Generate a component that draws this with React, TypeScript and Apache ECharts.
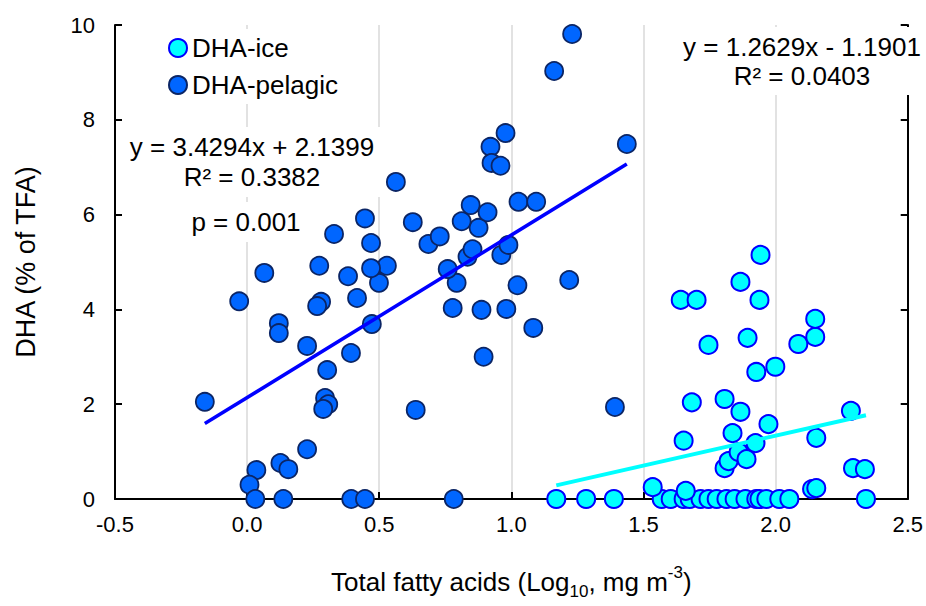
import React, { useEffect, useRef } from "react";
import * as echarts from "echarts";

// DHA (% of TFA) against total fatty acids (Log10, mg m-3)
const pelagicX = [
  -0.16, -0.03, 0.065, 0.12, 0.12, 0.227, 0.28, 0.265, 0.416, 0.472,
  0.393, 0.303, 0.295, 0.307, 0.288, 0.227, 0.126, 0.156, 0.035, 0.009,
  0.031, 0.137, 0.394, 0.446, 0.782, 0.638, 0.895, 0.778, 0.887, 0.981,
  1.083, 1.219, 1.392, 1.023, 0.793, 0.759, 0.499, 0.529, 0.469, 0.469,
  0.686, 0.729, 0.834, 0.853, 0.962, 0.989, 0.876, 0.563, 0.627, 0.812,
  0.846, 0.91, 0.921, 0.925, 0.959, 0.978, 1.027, 1.094, 1.162, 1.23,
  1.437, 0.329, 0.273, 0.382, 0.446,
];
const pelagicY = [
  2.05, 4.17, 4.77, 3.71, 3.5, 3.23, 4.16, 4.07, 4.24, 3.69,
  3.08, 2.72, 2.13, 2.0, 1.9, 1.05, 0.76, 0.63, 0.61, 0.3,
  0, 0, 0, 0, 0, 1.88, 3.0, 4.03, 3.99, 4.01,
  3.61, 4.62, 1.94, 4.51, 4.56, 4.85, 4.56, 4.92, 4.87, 5.4,
  5.38, 5.54, 5.11, 5.27, 5.15, 5.36, 5.72, 6.69, 5.84, 5.86,
  6.2, 6.05, 7.43, 7.09, 7.03, 7.72, 6.27, 6.27, 9.03, 9.81,
  7.49, 5.59, 4.92, 4.7, 5.92,
];

const iceX = [
  1.17, 1.283, 1.388, 1.569, 1.603, 1.652, 1.675, 1.716, 1.746, 1.777,
  1.814, 1.845, 1.886, 1.927, 1.939, 1.965, 2.014, 2.052, 2.342,
  1.535, 1.66, 2.138, 2.154, 2.293, 2.338, 2.285, 2.154, 1.652, 1.683,
  1.807, 1.822, 1.86, 1.89, 1.924, 1.837, 1.973, 1.807, 1.867, 1.746,
  1.894, 1.927, 1.999, 2.086, 2.15, 2.15, 1.641, 1.701, 1.867, 1.939,
  1.943,
];
const iceY = [
  0, 0, 0, 0, 0, 0, 0, 0, 0, 0,
  0, 0, 0, 0, 0, 0, 0, 0, 0,
  0.25, 0.17, 0.21, 0.23, 0.65, 0.63, 1.86, 1.29, 1.23, 2.04,
  0.65, 0.8, 0.99, 0.84, 1.18, 1.39, 1.58, 2.11, 1.84, 3.25,
  3.4, 2.68, 2.79, 3.27, 3.42, 3.8, 4.2, 4.2, 4.58, 4.2,
  5.15,
];

// Linear fits: [slope, intercept]
const pelagicFit = [3.4294, 2.1399];
const iceFit = [1.2629, -1.1901];

const xTicks = { min: -0.5, max: 2.5, step: 0.5 };
const yTicks = { min: 0, max: 10, step: 2 };

const FONT = "'Liberation Sans', Arial, Helvetica, sans-serif";

function pairs(xs: number[], ys: number[]) {
  return xs.map((x, i) => [x, ys[i]]);
}

function fitLine(xs: number[], fit: number[]) {
  const lo = Math.min(...xs);
  const hi = Math.max(...xs);
  return [
    [lo, fit[0] * lo + fit[1]],
    [hi, fit[0] * hi + fit[1]],
  ];
}

function eqText(fit: number[]) {
  const sign = fit[1] < 0 ? "-" : "+";
  return `y = ${fit[0].toFixed(4)}x ${sign} ${Math.abs(fit[1]).toFixed(4)}`;
}

export default function App() {
  const ref = useRef<HTMLDivElement>(null);

  useEffect(() => {
    document.body.style.margin = "0";
    if (!ref.current) return;
    const chart = echarts.init(ref.current, undefined, { renderer: "svg" });

    const axisLine = { show: true, onZero: false, lineStyle: { color: "#000", width: 2 } };
    const axisTick = { show: true, inside: true, length: 7, lineStyle: { color: "#000", width: 2 } };

    chart.setOption({
      animation: false,
      backgroundColor: "#fff",
      grid: { left: 115, right: 18, top: 25, bottom: 107 },
      legend: {
        data: ["DHA-ice", "DHA-pelagic"],
        orient: "vertical",
        left: 158,
        top: 29,
        itemWidth: 18,
        itemHeight: 18,
        itemGap: 11,
        padding: [6, 10, 6, 10],
        backgroundColor: "#fff",
        selectedMode: false,
        z: 50,
        textStyle: { fontSize: 26, fontFamily: FONT, color: "#000" },
      },
      xAxis: {
        type: "value",
        min: xTicks.min,
        max: xTicks.max,
        interval: xTicks.step,
        axisLine,
        axisTick,
        splitLine: { show: true, lineStyle: { color: "#D9D9D9", width: 1.5 } },
        axisLabel: {
          color: "#000",
          fontSize: 22,
          fontFamily: FONT,
          margin: 14,
          formatter: (v: number) => v.toFixed(1),
        },
        name: "{a|Total fatty acids (Log}{sub|10}{a|, mg m}{sup|-3}{a|)}",
        nameLocation: "middle",
        nameGap: 65,
        nameTextStyle: {
          rich: {
            a: { fontSize: 26, fontFamily: FONT, color: "#000", lineHeight: 36, verticalAlign: "middle" },
            sub: { fontSize: 17, fontFamily: FONT, color: "#000", lineHeight: 18, verticalAlign: "bottom" },
            sup: { fontSize: 17, fontFamily: FONT, color: "#000", lineHeight: 18, verticalAlign: "top" },
          },
        },
      },
      yAxis: [
        {
          type: "value",
          min: yTicks.min,
          max: yTicks.max,
          interval: yTicks.step,
          axisLine,
          axisTick,
          splitLine: { show: false },
          axisLabel: { color: "#000", fontSize: 22, fontFamily: FONT, margin: 20 },
          name: "DHA (% of TFA)",
          nameLocation: "middle",
          nameGap: 76,
          nameTextStyle: { fontSize: 27, fontFamily: FONT, color: "#000" },
        },
        {
          type: "value",
          position: "right",
          min: yTicks.min,
          max: yTicks.max,
          interval: yTicks.step,
          axisLine,
          axisTick,
          splitLine: { show: false },
          axisLabel: { show: false },
        },
      ],
      graphic: [
        {
          type: "text",
          z: 100,
          style: {
            text: `${eqText(pelagicFit)}\nR² = 0.3382`,
            x: 252,
            y: 162,
            align: "center",
            verticalAlign: "middle",
            font: `26px ${FONT}`,
            fill: "#000",
            lineHeight: 30,
            backgroundColor: "#fff",
            padding: [5, 6, 5, 6],
          },
        },
        {
          type: "text",
          z: 100,
          style: {
            text: "p = 0.001",
            x: 246,
            y: 222,
            align: "center",
            verticalAlign: "middle",
            font: `26px ${FONT}`,
            fill: "#000",
            lineHeight: 30,
            backgroundColor: "#fff",
            padding: [5, 6, 5, 6],
          },
        },
        {
          type: "text",
          z: 100,
          style: {
            text: `${eqText(iceFit)}\nR² = 0.0403`,
            x: 802,
            y: 61,
            align: "center",
            verticalAlign: "middle",
            font: `26px ${FONT}`,
            fill: "#000",
            lineHeight: 29,
            backgroundColor: "#fff",
            padding: [5, 6, 5, 6],
          },
        },
      ],
      series: [
        {
          name: "DHA-ice",
          type: "scatter",
          data: pairs(iceX, iceY),
          symbol: "circle",
          symbolSize: 18,
          itemStyle: { color: "#00FFFF", borderColor: "#0000FF", borderWidth: 2, opacity: 1 },
          z: 2,
        },
        {
          name: "DHA-pelagic",
          type: "scatter",
          data: pairs(pelagicX, pelagicY),
          symbol: "circle",
          symbolSize: 18,
          itemStyle: { color: "#0066FF", borderColor: "#0B2565", borderWidth: 1.8, opacity: 1 },
          z: 2,
        },
        {
          name: "pelagic fit",
          type: "line",
          data: fitLine(pelagicX, pelagicFit),
          showSymbol: false,
          symbol: "none",
          lineStyle: { color: "#0000FF", width: 3.5 },
          z: 3,
        },
        {
          name: "ice fit",
          type: "line",
          data: fitLine(iceX, iceFit),
          showSymbol: false,
          symbol: "none",
          lineStyle: { color: "#00FFFF", width: 4 },
          z: 3,
        },
      ],
    });

    return () => chart.dispose();
  }, []);

  return <div ref={ref} style={{ width: 926, height: 606 }} />;
}
